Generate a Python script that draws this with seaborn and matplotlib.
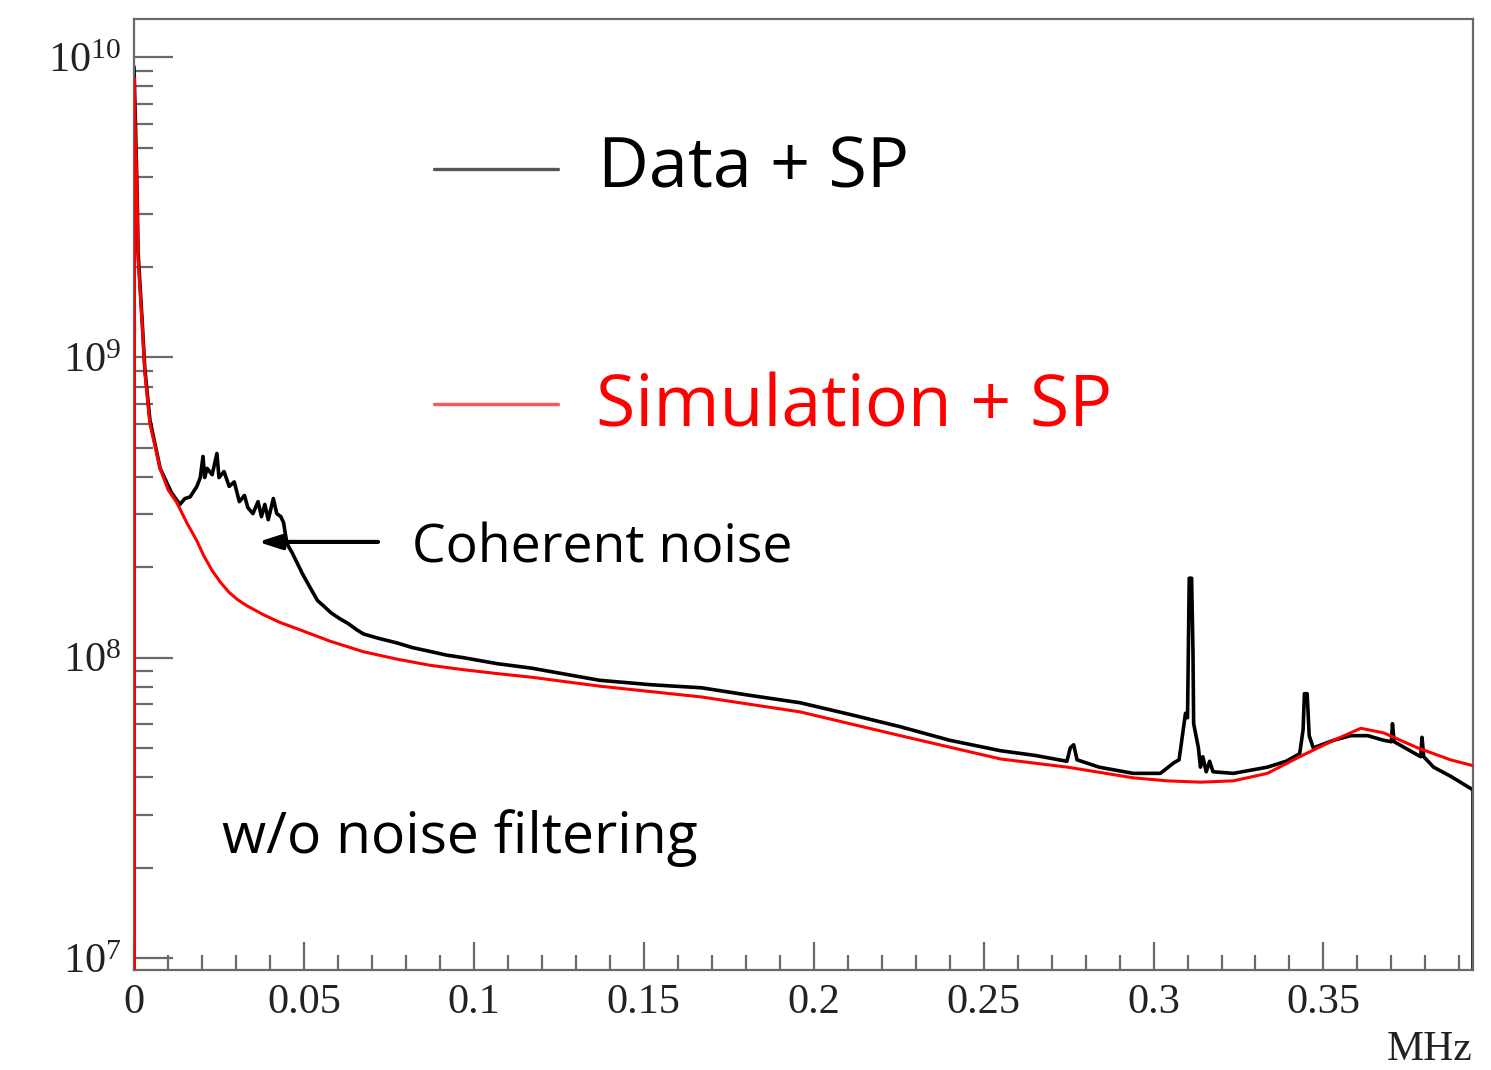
import numpy as np
import pandas as pd
import matplotlib
matplotlib.use("Agg")
import matplotlib.pyplot as plt
import matplotlib.ticker as mticker
import seaborn as sns

# ---------------- data ----------------
freq_data = [0.0, 0.0009, 0.0012, 0.0024, 0.0032, 0.0047, 0.0077, 0.0110, 0.0135, 0.0150,
             0.0165, 0.0185, 0.0195, 0.0203, 0.0208, 0.0215, 0.0230, 0.0244, 0.0250, 0.0265,
             0.0280, 0.0295, 0.0310, 0.0325, 0.0335, 0.0350, 0.0365, 0.0375, 0.0385, 0.0395,
             0.0410, 0.0420, 0.0432, 0.0440, 0.0450, 0.0465, 0.0480, 0.0495, 0.0510, 0.0525,
             0.0540, 0.0560, 0.0580, 0.0605, 0.0630, 0.0655, 0.0675, 0.0720, 0.0774, 0.0820,
             0.0870, 0.0920, 0.0970, 0.1020, 0.1070, 0.1170, 0.1270, 0.1370, 0.1520, 0.1670,
             0.1810, 0.1960, 0.2110, 0.2255, 0.2400, 0.2550, 0.2650, 0.2745, 0.2755, 0.2765,
             0.2775, 0.2840, 0.2940, 0.3020, 0.3060, 0.3075, 0.3080, 0.3094, 0.3100, 0.3105,
             0.3112, 0.3116, 0.3118, 0.3125, 0.3132, 0.3138, 0.3145, 0.3155, 0.3165, 0.3175,
             0.3235, 0.3335, 0.3390, 0.3430, 0.3440, 0.3444, 0.3452, 0.3458, 0.3470, 0.3530,
             0.3580, 0.3630, 0.3677, 0.3700, 0.3703, 0.3708, 0.3786, 0.3790, 0.3795, 0.3824,
             0.3874, 0.3940, 0.3940]
power_data = [9.30e9, 3.63e9, 2.24e9, 1.32e9, 9.12e8, 6.17e8, 4.27e8, 3.55e8, 3.24e8, 3.39e8,
              3.43e8, 3.72e8, 3.98e8, 4.68e8, 3.98e8, 4.27e8, 4.07e8, 4.79e8, 3.98e8, 4.17e8,
              3.72e8, 3.85e8, 3.31e8, 3.47e8, 3.16e8, 3.02e8, 3.31e8, 2.95e8, 3.24e8, 2.88e8,
              3.39e8, 3.02e8, 2.95e8, 2.82e8, 2.40e8, 2.24e8, 2.07e8, 1.91e8, 1.78e8, 1.66e8,
              1.55e8, 1.48e8, 1.41e8, 1.35e8, 1.30e8, 1.24e8, 1.20e8, 1.16e8, 1.12e8, 1.08e8,
              1.05e8, 1.02e8, 1.00e8, 9.77e7, 9.55e7, 9.23e7, 8.81e7, 8.41e7, 8.13e7, 7.94e7,
              7.50e7, 7.08e7, 6.46e7, 5.89e7, 5.31e7, 4.90e7, 4.73e7, 4.52e7, 5.01e7, 5.13e7,
              4.57e7, 4.32e7, 4.12e7, 4.12e7, 4.47e7, 4.57e7, 5.01e7, 6.53e7, 6.31e7, 1.84e8,
              1.84e8, 1.05e8, 6.03e7, 5.50e7, 5.01e7, 4.32e7, 4.68e7, 4.17e7, 4.52e7, 4.17e7,
              4.12e7, 4.32e7, 4.52e7, 4.79e7, 5.75e7, 7.59e7, 7.59e7, 5.50e7, 5.01e7, 5.31e7,
              5.50e7, 5.50e7, 5.31e7, 5.25e7, 6.03e7, 5.25e7, 4.68e7, 5.43e7, 4.68e7, 4.32e7,
              4.03e7, 3.63e7, 1.0e6]

freq_sim = [0.0, 0.0, 0.0004, 0.0009, 0.0012, 0.0024, 0.0032, 0.0047, 0.0077, 0.0100,
            0.0127, 0.0155, 0.0185, 0.0205, 0.0230, 0.0255, 0.0280, 0.0305, 0.0332, 0.0381,
            0.0430, 0.0479, 0.0577, 0.0675, 0.0774, 0.0870, 0.0970, 0.1070, 0.1170, 0.1370,
            0.1670, 0.1960, 0.2255, 0.2550, 0.2747, 0.2941, 0.3040, 0.3138, 0.3235, 0.3335,
            0.3430, 0.3530, 0.3610, 0.3677, 0.3777, 0.3874, 0.3940]
power_sim = [1.0e6, 8.5e9, 5.5e9, 3.63e9, 2.14e9, 1.29e9, 8.9e8, 6.0e8, 4.27e8, 3.63e8,
             3.27e8, 2.82e8, 2.45e8, 2.19e8, 1.95e8, 1.78e8, 1.65e8, 1.56e8, 1.49e8, 1.39e8,
             1.31e8, 1.25e8, 1.135e8, 1.047e8, 9.89e7, 9.44e7, 9.12e7, 8.85e7, 8.61e7, 8.04e7,
             7.4e7, 6.6e7, 5.5e7, 4.6e7, 4.32e7, 3.98e7, 3.89e7, 3.85e7, 3.89e7, 4.12e7,
             4.68e7, 5.31e7, 5.82e7, 5.62e7, 5.01e7, 4.57e7, 4.37e7]

x_ticks = [0.0, 0.05, 0.1, 0.15, 0.2, 0.25, 0.3, 0.35]
x_tick_labels = ["0", "0.05", "0.1", "0.15", "0.2", "0.25", "0.3", "0.35"]
y_ticks = [1e7, 1e8, 1e9, 1e10]
y_tick_labels = [r"$10^{7}$", r"$10^{8}$", r"$10^{9}$", r"$10^{10}$"]

legend_labels = ["Data + SP", "Simulation + SP"]
annotation_text = "Coherent noise"
note_text = "w/o noise filtering"
x_unit = "MHz"

# ---------------- style ----------------
sns.set_style("white")
plt.rcParams["font.family"] = ["Liberation Serif", "DejaVu Serif"]
plt.rcParams["mathtext.fontset"] = "custom"
plt.rcParams["mathtext.rm"] = "Liberation Serif"
plt.rcParams["mathtext.it"] = "Liberation Serif"

W, H = 1491, 1070
fig = plt.figure(figsize=(W / 100, H / 100), dpi=100)
L, R, T, B = 134, 1473, 19, 970
ax = fig.add_axes([L / W, 1 - B / H, (R - L) / W, (B - T) / H])

df_data = pd.DataFrame({"f": freq_data, "p": power_data})
df_sim = pd.DataFrame({"f": freq_sim, "p": power_sim})

sns.lineplot(data=df_sim, x="f", y="p", ax=ax, color="#ff0000", lw=2.2,
             estimator=None, sort=False, zorder=3)
sns.lineplot(data=df_data, x="f", y="p", ax=ax, color="black", lw=2.6,
             estimator=None, sort=False, zorder=2)
sns.lineplot(data=df_sim.iloc[:2], x="f", y="p", ax=ax, color="#ff0000", lw=2.2,
             estimator=None, sort=False, zorder=4)

ax.set_yscale("log")
ax.set_xlim(0, 0.394)
ax.set_ylim(9.12e6, 1.34e10)
ax.set_xlabel("")
ax.set_ylabel("")

spine_col = "#6a6a6a"
for s in ax.spines.values():
    s.set_color(spine_col)
    s.set_linewidth(1.6)

ax.set_xticks(x_ticks)
ax.set_xticklabels(x_tick_labels)
ax.xaxis.set_minor_locator(mticker.MultipleLocator(0.01))
ax.set_yticks(y_ticks)
ax.set_yticklabels(y_tick_labels)
ax.yaxis.set_minor_locator(mticker.LogLocator(base=10, subs=np.arange(2, 10)))
ax.yaxis.set_minor_formatter(mticker.NullFormatter())

ax.tick_params(axis="both", which="both", direction="in", color=spine_col,
               width=1.6, top=False, right=False, bottom=True, left=True,
               labelcolor="#222222", labelsize=30.5)
ax.tick_params(axis="y", which="major", length=28, pad=9)
ax.tick_params(axis="y", which="minor", length=14)
ax.tick_params(axis="x", which="major", length=20, pad=10)
ax.tick_params(axis="x", which="minor", length=10.5)

fig.text(R / W, 1 - 1069 / H, x_unit, ha="right", va="bottom",
         fontsize=30, color="#222222")

# legend drawn inside the plot
sans = ["Open Sans", "DejaVu Sans"]
fig.add_artist(plt.Line2D([434 / W, 558 / W], [1 - 169 / H, 1 - 169 / H],
                          color="#555555", lw=2.4))
fig.add_artist(plt.Line2D([434 / W, 558 / W], [1 - 404 / H, 1 - 404 / H],
                          color="#ff5555", lw=2.4))
fig.text(598 / W, 1 - 169 / H, legend_labels[0], ha="left", va="center",
         fontsize=50.5, color="black", family=sans)
fig.text(596 / W, 1 - 408 / H, legend_labels[1], ha="left", va="center",
         fontsize=51.5, color="#ff0000", family=sans)

fig.text(412 / W, 1 - 549 / H, annotation_text, ha="left", va="center",
         fontsize=38.5, color="black", family=sans)
fig.text(222 / W, 1 - 838 / H, note_text, ha="left", va="center",
         fontsize=41, color="black", family=sans)

ax.annotate("", xy=(0.0365, 2.43e8), xytext=(0.0718, 2.43e8),
            arrowprops=dict(arrowstyle="-|>,head_length=1.4,head_width=0.45",
                            color="black", lw=3.0, shrinkA=0, shrinkB=0))

fig.savefig("out.png", dpi=100)
